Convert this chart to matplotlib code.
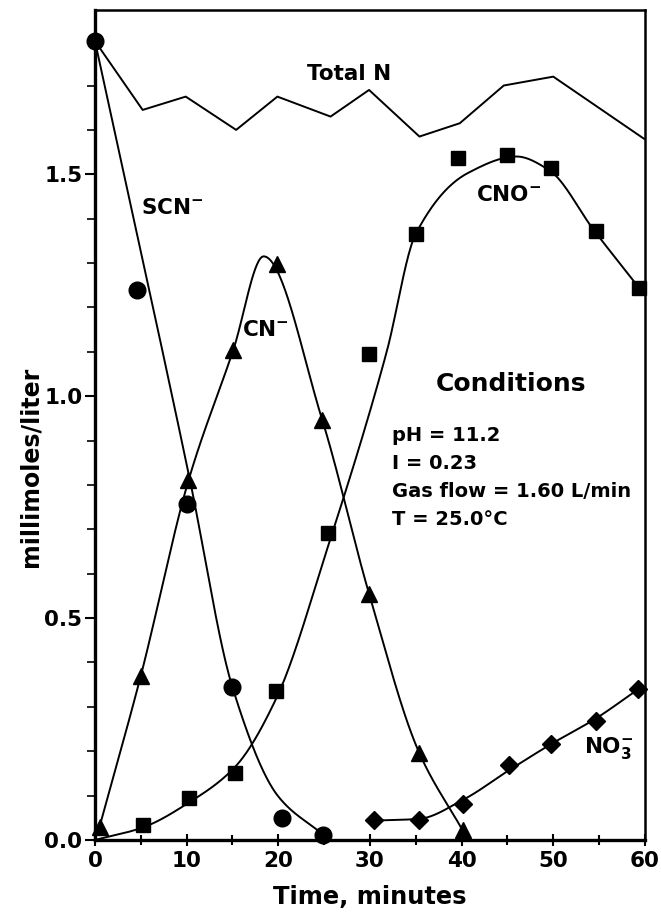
import numpy as np
import matplotlib
matplotlib.use("Agg")
import matplotlib.pyplot as plt
from matplotlib.ticker import MultipleLocator, FormatStrFormatter

plt.rcParams["font.family"] = ["DejaVu Sans"]
plt.rcParams["font.weight"] = "bold"
plt.rcParams["axes.labelweight"] = "bold"
plt.rcParams["mathtext.default"] = "bf"

t_total = [0, 5.2, 9.9, 15.4, 19.9, 25.7, 29.9, 35.4, 39.8, 44.6, 50.0, 59.9]
total_n = [1.80, 1.645, 1.675, 1.60, 1.675, 1.63, 1.69, 1.585, 1.615, 1.70, 1.72, 1.58]

t_scn = [0, 4.6, 10.0, 15.0, 20.4, 24.9]
scn = [1.80, 1.24, 0.757, 0.345, 0.05, 0.012]

t_cn = [0.5, 5.0, 10.2, 15.1, 19.9, 24.8, 29.9, 35.3, 40.1]
cn = [0.03, 0.37, 0.81, 1.105, 1.297, 0.946, 0.555, 0.195, 0.022]

t_cno = [5.2, 10.3, 15.3, 19.8, 25.4, 29.9, 35.0, 39.6, 44.9, 49.7, 54.7, 59.4]
cno = [0.034, 0.094, 0.152, 0.336, 0.691, 1.096, 1.366, 1.536, 1.544, 1.514, 1.372, 1.243]

t_no3 = [30.4, 35.3, 40.2, 45.2, 49.7, 54.7, 59.2]
no3 = [0.044, 0.044, 0.081, 0.168, 0.217, 0.267, 0.34]

# hand-drawn fitted curves at a few places
scn_fit_t = [0, 10.3, 15.0, 20.0, 24.9]
scn_fit = [1.80, 0.817, 0.344, 0.098, 0.012]

cn_fit_t = [0.5, 5.0, 10.2, 15.1, 18.4, 24.8, 29.9, 35.3, 40.1]
cn_fit = [0.03, 0.37, 0.81, 1.105, 1.315, 0.946, 0.555, 0.2, 0.022]

cno_fit_t = [0, 5.2, 10.3, 15.3, 19.8, 25.4, 31.8, 35.0, 40.7, 46.0, 49.5, 54.5, 59.4]
cno_fit = [0.0, 0.028, 0.085, 0.165, 0.32, 0.66, 1.098, 1.366, 1.503, 1.54, 1.51, 1.372, 1.243]

conditions = ["pH = 11.2", "I = 0.23", "Gas flow = 1.60 L/min", "T = 25.0\u00b0C"]


def pchip(t, y, n=400):
    # shape preserving cubic curve through the points (Fritsch-Carlson tangents)
    t = np.asarray(t, float)
    y = np.asarray(y, float)
    h = np.diff(t)
    d = np.diff(y) / h
    m = np.zeros_like(y)
    m[0], m[-1] = d[0], d[-1]
    for k in range(1, len(t) - 1):
        if d[k - 1] * d[k] > 0:
            w1 = 2 * h[k] + h[k - 1]
            w2 = h[k] + 2 * h[k - 1]
            m[k] = (w1 + w2) / (w1 / d[k - 1] + w2 / d[k])
    tt = np.linspace(t[0], t[-1], n)
    i = np.clip(np.searchsorted(t, tt) - 1, 0, len(t) - 2)
    hh = h[i]
    s = (tt - t[i]) / hh
    h00 = 2 * s**3 - 3 * s**2 + 1
    h10 = s**3 - 2 * s**2 + s
    h01 = -2 * s**3 + 3 * s**2
    h11 = s**3 - s**2
    return tt, h00 * y[i] + h10 * hh * m[i] + h01 * y[i + 1] + h11 * hh * m[i + 1]


def smoothed(t, y, bw):
    # local weighted quadratic, then a smooth curve through the smoothed values
    t = np.asarray(t, float)
    y = np.asarray(y, float)
    ys = []
    for t0 in t:
        w = np.exp(-0.5 * ((t - t0) / bw) ** 2)
        c = np.polyfit(t, y, 2, w=np.sqrt(w))
        ys.append(np.polyval(c, t0))
    return pchip(t, ys)


fig = plt.figure(figsize=(6.61, 9.15), dpi=100)
ax = fig.add_axes([0.1437, 0.082, 0.832, 0.907])

lw = 1.4
ax.plot(t_total, total_n, color="black", lw=lw)

ax.plot(*pchip(scn_fit_t, scn_fit), color="black", lw=lw)
ax.plot(*pchip(cn_fit_t, cn_fit), color="black", lw=lw)
ax.plot(*pchip(cno_fit_t, cno_fit), color="black", lw=lw)
ax.plot(*smoothed(t_no3, no3, 6), color="black", lw=lw)

ax.plot(t_scn, scn, "o", color="black", ms=12, clip_on=False, zorder=5)
ax.plot(t_cn, cn, "^", color="black", ms=11, clip_on=False, zorder=5)
ax.plot(t_cno, cno, "s", color="black", ms=10, clip_on=False, zorder=5)
ax.plot(t_no3, no3, "D", color="black", ms=9.5, clip_on=False, zorder=5)

ax.text(27.7, 1.726, "Total N", ha="center", va="center", fontsize=15.5)
ax.text(5.0, 1.424, r"SCN$^{-}$", ha="left", va="center", fontsize=15.5)
ax.text(41.6, 1.453, r"CNO$^{-}$", ha="left", va="center", fontsize=15.5)
ax.text(16.0, 1.149, r"CN$^{-}$", ha="left", va="center", fontsize=15.5)
ax.text(53.3, 0.207, r"NO$_3^{-}$", ha="left", va="center", fontsize=15.5)

ax.text(37.2, 1.028, "Conditions", ha="left", va="center", fontsize=18)
for k, line in enumerate(conditions):
    ax.text(32.4, 0.911 - k * 0.063, line, ha="left", va="center", fontsize=14)

ax.set_xlim(0, 60)
ax.set_ylim(0, 1.87)
ax.xaxis.set_major_locator(MultipleLocator(10))
ax.xaxis.set_minor_locator(MultipleLocator(5))
ax.yaxis.set_major_locator(MultipleLocator(0.5))
ax.yaxis.set_minor_locator(MultipleLocator(0.1))
ax.yaxis.set_major_formatter(FormatStrFormatter("%.1f"))

ax.tick_params(axis="x", which="major", direction="inout", length=8, width=1.5,
               labelsize=15.5, pad=4)
ax.tick_params(axis="x", which="minor", direction="inout", length=7, width=1.5)
ax.tick_params(axis="y", which="major", direction="out", length=7, width=1.5,
               labelsize=15.5, pad=2)
ax.tick_params(axis="y", which="minor", direction="out", length=6, width=1.2)

for side in ["left", "bottom"]:
    ax.spines[side].set_linewidth(2.4)
for side in ["top", "right"]:
    ax.spines[side].set_linewidth(1.8)

ax.set_xlabel("Time, minutes", fontsize=17.4, labelpad=10)
ax.set_ylabel("millimoles/liter", fontsize=17)
ax.yaxis.set_label_coords(-0.095, 0.45)

fig.savefig("out.png", dpi=100)
